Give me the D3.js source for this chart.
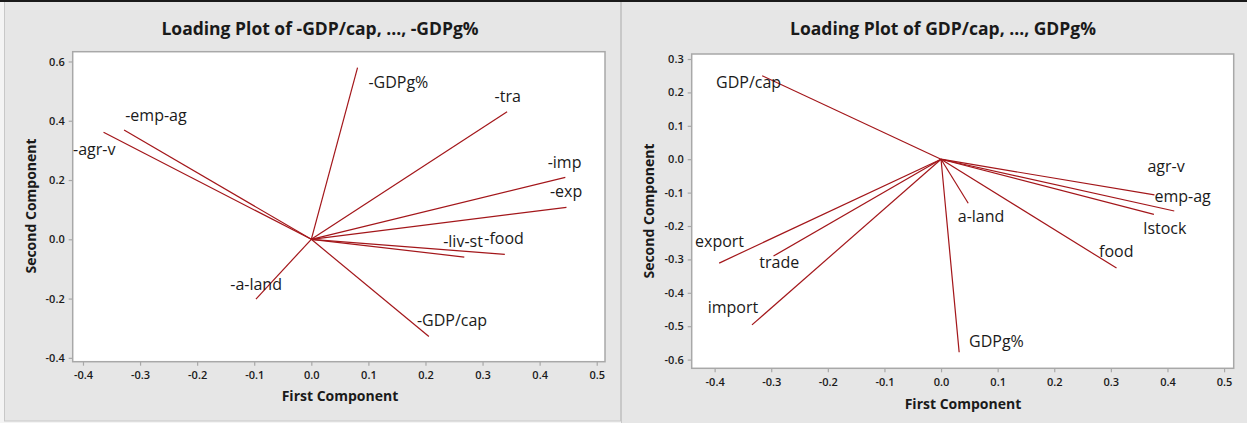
<!DOCTYPE html>
<html>
<head>
<meta charset="utf-8">
<script src="https://cdn.jsdelivr.net/npm/d3@7"></script>
<style>
  html, body { margin: 0; padding: 0; background: #ffffff; }
  svg { display: block; }
  text { font-family: "Open Sans", "Noto Sans", sans-serif; }
</style>
</head>
<body>
<svg id="chart" width="1247" height="423"></svg>
<script>
// ---- Loadings for the sign-flipped variables (left plot) ----
const leftVars = ["-GDPg%", "-tra", "-imp", "-exp", "-food", "-liv-st", "-GDP/cap", "-a-land", "-agr-v", "-emp-ag"];
const leftPC1  = [0.081, 0.343, 0.445, 0.447, 0.339, 0.268, 0.206, -0.097, -0.364, -0.328];
const leftPC2  = [0.579, 0.430, 0.209, 0.108, -0.051, -0.060, -0.328, -0.202, 0.361, 0.369];
// label anchors, in component units
const leftLabelPC1 = [0.100, 0.321, 0.414, 0.418, 0.303, 0.231, 0.185, -0.142, -0.4175, -0.326];
const leftLabelPC2 = [0.509, 0.462, 0.2415, 0.142, -0.017, -0.027, -0.292, -0.171, 0.284, 0.399];
const leftXTicks = [-0.4, -0.3, -0.2, -0.1, 0.0, 0.1, 0.2, 0.3, 0.4, 0.5];
const leftYTicks = [-0.4, -0.2, 0.0, 0.2, 0.4, 0.6];

// ---- Loadings for the original variables (right plot) ----
const rightVars = ["GDP/cap", "export", "trade", "import", "GDPg%", "a-land", "food", "agr-v", "emp-ag", "lstock"];
const rightPC1  = [-0.316, -0.392, -0.296, -0.334, 0.032, 0.048, 0.310, 0.377, 0.412, 0.376];
const rightPC2  = [0.250, -0.311, -0.290, -0.496, -0.578, -0.132, -0.326, -0.107, -0.155, -0.165];
const rightLabelPC1 = [-0.3975, -0.4346, -0.321, -0.4122, 0.0495, 0.0295, 0.2792, 0.3645, 0.3769, 0.3574];
const rightLabelPC2 = [0.2144, -0.2635, -0.3263, -0.4593, -0.5629, -0.1886, -0.2934, -0.0389, -0.1287, -0.2237];
const rightXTicks = [-0.4, -0.3, -0.2, -0.1, 0.0, 0.1, 0.2, 0.3, 0.4, 0.5];
const rightYTicks = [-0.6, -0.5, -0.4, -0.3, -0.2, -0.1, 0.0, 0.1, 0.2, 0.3];

const titles = ["Loading Plot of -GDP/cap, ..., -GDPg%", "Loading Plot of GDP/cap, ..., GDPg%"];

const svg = d3.select("#chart");
const LINE = "#a3161a";
const FRAME = "#a8a8a8";
const fmt = v => (Math.abs(v) < 1e-9 ? 0 : v).toFixed(1);

// panel backgrounds
svg.append("rect").attr("x", 0).attr("y", 0).attr("width", 1247).attr("height", 423).attr("fill", "#f4f4f4");
svg.append("rect").attr("x", 4.5).attr("y", 1).attr("width", 616).attr("height", 420)
  .attr("fill", "#e6e6e6").attr("stroke", "#c8c8c8").attr("stroke-width", 1);
svg.append("rect").attr("x", 621.5).attr("y", 1).attr("width", 630).attr("height", 425)
  .attr("fill", "#e6e6e6").attr("stroke", "#c8c8c8").attr("stroke-width", 1);
svg.append("rect").attr("x", 0).attr("y", 0).attr("width", 1247).attr("height", 2).attr("fill", "#1a1a1a");

function panel(cfg) {
  const x = d3.scaleLinear().domain(cfg.xDomain).range([cfg.left, cfg.right]);
  const y = d3.scaleLinear().domain(cfg.yDomain).range([cfg.bottom, cfg.top]);
  const g = svg.append("g");

  g.append("text").attr("x", cfg.titleX).attr("y", 35).attr("text-anchor", "middle")
    .attr("font-size", 17.5).attr("font-weight", 700).attr("fill", "#1a1a1a").text(cfg.title);

  g.append("rect").attr("x", cfg.left).attr("y", cfg.top)
    .attr("width", cfg.right - cfg.left).attr("height", cfg.bottom - cfg.top)
    .attr("fill", "#ffffff").attr("stroke", FRAME).attr("stroke-width", 1.5);

  const xAxis = g.append("g").attr("transform", `translate(0,${cfg.bottom})`)
    .call(d3.axisBottom(x).tickValues(cfg.xTicks).tickFormat(fmt).tickSize(4).tickPadding(6));
  const yAxis = g.append("g").attr("transform", `translate(${cfg.left},0)`)
    .call(d3.axisLeft(y).tickValues(cfg.yTicks).tickFormat(fmt).tickSize(4).tickPadding(4));
  [xAxis, yAxis].forEach(a => {
    a.select(".domain").remove();
    a.selectAll(".tick line").attr("stroke", FRAME).attr("stroke-width", 1.2);
    a.selectAll(".tick text").attr("font-size", 11).attr("fill", "#1a1a1a")
      .attr("font-family", "'Open Sans', sans-serif").attr("font-weight", 600);
  });

  g.append("text").attr("x", cfg.xLabelX).attr("y", cfg.xLabelY).attr("text-anchor", "middle")
    .attr("font-size", 14).attr("font-weight", 700).attr("fill", "#1a1a1a").text("First Component");
  g.append("text").attr("transform", `translate(${cfg.yLabelX},${cfg.yLabelY}) rotate(-90)`)
    .attr("text-anchor", "middle").attr("font-size", 14).attr("font-weight", 700)
    .attr("fill", "#1a1a1a").text("Second Component");

  const rows = cfg.vars.map((v, i) => ({
    name: v, pc1: cfg.pc1[i], pc2: cfg.pc2[i], lx: cfg.lx[i], ly: cfg.ly[i]
  }));

  const plot = g.append("g");
  plot.selectAll("line.load").data(rows).join("line").attr("class", "load")
    .attr("x1", x(0)).attr("y1", y(0))
    .attr("x2", d => x(d.pc1)).attr("y2", d => y(d.pc2))
    .attr("stroke", LINE).attr("stroke-width", 1.2);

  plot.selectAll("text.lab").data(rows).join("text").attr("class", "lab")
    .attr("x", d => x(d.lx)).attr("y", d => y(d.ly))
    .attr("font-size", 16).attr("fill", "#1a1a1a").text(d => d.name);
}

panel({
  title: titles[0], titleX: 320,
  vars: leftVars, pc1: leftPC1, pc2: leftPC2, lx: leftLabelPC1, ly: leftLabelPC2,
  xTicks: leftXTicks, yTicks: leftYTicks,
  xDomain: [-0.418, 0.5145], yDomain: [-0.413, 0.633],
  left: 72.7, right: 605, top: 51.7, bottom: 361.7,
  xLabelX: 340, xLabelY: 400.5, yLabelX: 36, yLabelY: 206
});

panel({
  title: titles[1], titleX: 943,
  vars: rightVars, pc1: rightPC1, pc2: rightPC2, lx: rightLabelPC1, ly: rightLabelPC2,
  xTicks: rightXTicks, yTicks: rightYTicks,
  xDomain: [-0.4405, 0.517], yDomain: [-0.626, 0.315],
  left: 691.7, right: 1233.7, top: 54, bottom: 368.3,
  xLabelX: 963, xLabelY: 408.5, yLabelX: 654, yLabelY: 211
});
</script>
</body>
</html>
